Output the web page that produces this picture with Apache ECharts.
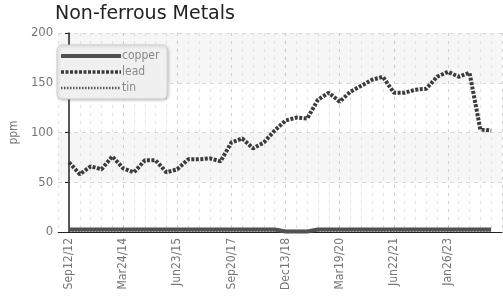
<!DOCTYPE html>
<html>
<head>
<meta charset="utf-8">
<script src="https://cdn.jsdelivr.net/npm/echarts@6/dist/echarts.min.js"></script>
<style>
  html, body { margin: 0; padding: 0; background: #fff; }
  #chart { width: 503px; height: 296px; }
</style>
</head>
<body>
<div id="chart"></div>
<script>
// tick labels, one every 5 samples
var tickLabels = ['Sep12/12', 'Mar24/14', 'Jun23/15', 'Sep20/17', 'Dec13/18', 'Mar19/20', 'Jun22/21', 'Jan26/23'];
var labelStep = 5;

var lead = [70, 58, 66, 63, 76, 64, 60, 72, 72, 60,
            63, 73, 73, 74, 71, 90, 94, 84, 90, 102,
            112, 115, 114, 133, 140, 131, 141, 147, 153, 156,
            140, 140, 143, 144, 156, 161, 156, 160, 103, 102];
var copper = [2.5, 2.5, 2.5, 2.5, 2.5, 2.5, 2.5, 2.5, 2.5, 2.5,
              2.5, 2.5, 2.5, 2.5, 2.5, 2.5, 2.5, 2.5, 2.5, 2.5,
              0.5, 0.5, 0.5, 2.5, 2.5, 2.5, 2.5, 2.5, 2.5, 2.5,
              2.5, 2.5, 2.5, 2.5, 2.5, 2.5, 2.5, 2.5, 2.5, 2.5];
var tin = [1.5, 1.5, 1.5, 1.5, 1.5, 1.5, 1.5, 1.5, 1.5, 1.5,
           1.5, 1.5, 1.5, 1.5, 1.5, 1.5, 1.5, 1.5, 1.5, 1.5,
           1, 1, 1, 1.5, 1.5, 1.5, 1.5, 1.5, 1.5, 1.5,
           1.5, 1.5, 1.5, 1.5, 1.5, 1.5, 1.5, 1.5, 1.5, 1.5];

function pairs(arr) {
    var out = [];
    for (var i = 0; i < arr.length; i++) out.push([i, arr[i]]);
    return out;
}

var narrow = '"Liberation Sans Narrow", "DejaVu Sans Condensed", sans-serif';

var chart = echarts.init(document.getElementById('chart'));
chart.setOption({
    animation: false,
    title: {
        text: 'Non-ferrous Metals',
        left: 50,
        top: 0,
        textStyle: { fontFamily: 'DejaVu Sans', fontSize: 19, fontWeight: 'normal', color: '#222' }
    },
    legend: {
        orient: 'vertical',
        left: 57,
        top: 45,
        itemWidth: 60,
        itemHeight: 9,
        itemGap: 4,
        padding: [5, 8, 5, 2],
        backgroundColor: '#f0f0f0',
        borderColor: '#d0d0d0',
        borderWidth: 1,
        borderRadius: 5,
        shadowColor: 'rgba(0,0,0,0.2)',
        shadowBlur: 3,
        shadowOffsetX: 1,
        shadowOffsetY: 1,
        itemStyle: { opacity: 0 },
        textStyle: { fontFamily: narrow, fontSize: 12, color: '#888', padding: [0, 0, 0, -4] },
        data: [
            { name: 'copper', lineStyle: { width: 4 } },
            { name: 'lead', lineStyle: { width: 3.5 } },
            { name: 'tin', lineStyle: { width: 2.5 } }
        ]
    },
    grid: { left: 48, right: 1, top: 33, bottom: 64 },
    xAxis: {
        type: 'value',
        min: -1,
        max: 40,
        interval: 1,
        axisLine: { lineStyle: { color: '#222', width: 1 } },
        axisTick: { show: false },
        axisLabel: {
            rotate: 90,
            fontFamily: narrow,
            fontSize: 12,
            color: '#777',
            margin: 6,
            formatter: function(v) {
                if (v >= 0 && v % labelStep === 0) return tickLabels[v / labelStep] || '';
                return '';
            }
        },
        splitLine: {
            show: true,
            lineStyle: {
                color: ['#e2e2e2', '#cdcdcd', '#e2e2e2', '#e2e2e2', '#e2e2e2'],
                type: [3, 5]
            }
        }
    },
    yAxis: {
        type: 'value',
        min: 0,
        max: 200,
        interval: 50,
        name: 'ppm',
        nameLocation: 'middle',
        nameGap: 31,
        nameRotate: 90,
        nameTextStyle: { fontFamily: narrow, fontSize: 12, color: '#777' },
        axisLine: { show: true, lineStyle: { color: '#222', width: 1.5 } },
        axisTick: { show: true, length: 4, lineStyle: { color: '#222' } },
        axisLabel: { fontFamily: narrow, fontSize: 13, color: '#777', margin: 5 },
        splitLine: { show: true, lineStyle: { color: '#d8d8d8', type: [4, 4] } },
        splitArea: { show: true, areaStyle: { color: ['#ffffff', '#f6f6f6'] } }
    },
    series: [
        {
            name: 'copper', type: 'line', data: pairs(copper), symbol: 'none',
            color: '#505050',
            lineStyle: { width: 4, color: '#505050' }
        },
        {
            name: 'lead', type: 'line', data: pairs(lead), symbol: 'none',
            color: '#3c3c3c',
            lineStyle: { width: 4, color: '#3c3c3c', type: [3, 1.5] }
        },
        {
            name: 'tin', type: 'line', data: pairs(tin), symbol: 'none',
            color: '#555555',
            lineStyle: { width: 2.5, color: '#555555', type: [1.5, 1.5] }
        }
    ]
});
</script>
</body>
</html>
